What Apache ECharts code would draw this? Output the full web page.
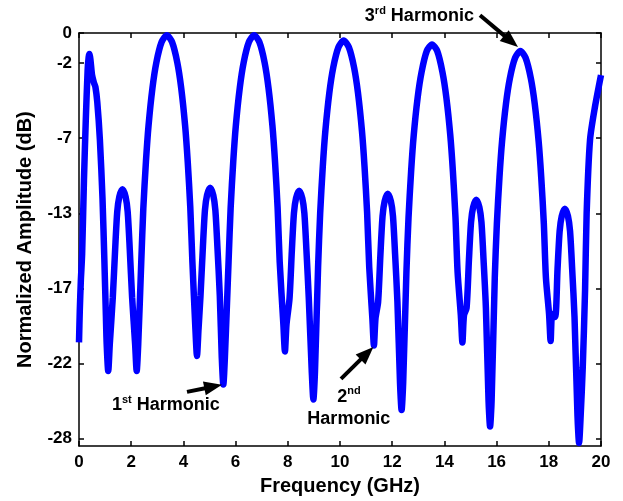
<!DOCTYPE html>
<html>
<head>
<meta charset="utf-8">
<script src="https://cdn.jsdelivr.net/npm/echarts@6/dist/echarts.min.js"></script>
<style>
html, body { margin: 0; padding: 0; background: #fff; }
#chart { width: 623px; height: 501px; }
</style>
</head>
<body>
<div id="chart"></div>
<script>
// [frequency GHz, normalized amplitude dB]
const responsePoints = [
  [0, -20.6], [0.03, -18.5], [0.07, -16.5], [0.12, -14.7], [0.19, -9.8], [0.26, -5.8], [0.33, -2.5],
  [0.37, -1.6], [0.4, -1.4], [0.44, -1.8], [0.5, -2.8], [0.57, -3.3], [0.63, -3.6], [0.7, -4.6],
  [0.8, -7.1], [0.9, -11], [0.97, -15], [1.03, -18.8],
  [1.06, -20.7], [1.12, -22.5], [1.18, -20.7],
  [1.295, -17.6], [1.385, -14.4], [1.465, -11.9], [1.545, -10.9], [1.665, -10.4], [1.785, -10.9], [1.865, -11.9], [1.945, -14.4], [2.035, -17.6],
  [2.15, -20.7], [2.21, -22.5], [2.27, -20.7],
  [2.385, -15.25], [2.465, -11.65], [2.565, -8.55], [2.665, -6.15], [2.815, -3.65], [2.965, -1.95], [3.165, -0.6], [3.365, -0.15],
  [3.565, -0.6], [3.765, -1.95], [3.915, -3.65], [4.065, -6.15], [4.165, -8.55], [4.265, -11.65], [4.345, -15.25],
  [4.46, -19.7], [4.52, -21.5], [4.58, -19.7],
  [4.655, -17.5], [4.745, -14.3], [4.825, -11.8], [4.905, -10.8], [5.025, -10.3], [5.145, -10.8], [5.225, -11.8], [5.305, -14.3], [5.395, -17.5],
  [5.47, -21.6], [5.53, -23.4], [5.59, -21.6],
  [5.73, -15.25], [5.81, -11.65], [5.91, -8.55], [6.01, -6.15], [6.16, -3.65], [6.31, -1.95], [6.51, -0.6], [6.71, -0.15],
  [6.91, -0.6], [7.11, -1.95], [7.26, -3.65], [7.41, -6.15], [7.51, -8.55], [7.61, -11.65], [7.69, -15.25],
  [7.83, -19.4], [7.89, -21.2], [7.95, -19.4],
  [8.065, -17.7], [8.155, -14.5], [8.235, -12.0], [8.315, -11.0], [8.435, -10.5], [8.555, -11.0], [8.635, -12.0], [8.715, -14.5], [8.805, -17.7],
  [8.92, -22.6], [8.98, -24.4], [9.04, -22.6],
  [9.16, -15.6], [9.24, -12.0], [9.34, -8.9], [9.44, -6.5], [9.59, -4.0], [9.74, -2.3], [9.94, -0.95], [10.14, -0.5],
  [10.34, -0.95], [10.54, -2.3], [10.69, -4.0], [10.84, -6.5], [10.94, -8.9], [11.04, -12.0], [11.12, -15.6],
  [11.24, -19.0], [11.3, -20.8], [11.36, -19.0],
  [11.46, -17.9], [11.55, -14.7], [11.63, -12.2], [11.71, -11.2], [11.83, -10.7], [11.95, -11.2], [12.03, -12.2], [12.11, -14.7], [12.2, -17.9],
  [12.3, -23.3], [12.36, -25.1], [12.42, -23.3],
  [12.545, -15.9], [12.625, -12.3], [12.725, -9.2], [12.825, -6.8], [12.975, -4.3], [13.125, -2.6], [13.325, -1.2], [13.525, -0.77],
  [13.725, -1.2], [13.925, -2.6], [14.075, -4.3], [14.225, -6.8], [14.325, -9.2], [14.425, -12.3], [14.505, -15.9],
  [14.63, -18.8], [14.69, -20.6], [14.75, -18.8],
  [14.85, -18.3], [14.94, -15.1], [15.02, -12.6], [15.1, -11.6], [15.22, -11.1], [15.34, -11.6], [15.42, -12.6], [15.5, -15.1], [15.59, -18.3],
  [15.69, -24.4], [15.75, -26.2], [15.81, -24.4],
  [15.93, -16.3], [16.01, -12.7], [16.11, -9.6], [16.21, -7.2], [16.36, -4.7], [16.51, -3.0], [16.71, -1.65], [16.91, -1.2],
  [17.11, -1.65], [17.31, -3.0], [17.46, -4.7], [17.61, -7.2], [17.71, -9.6], [17.81, -12.7], [17.89, -16.3],
  [18.01, -18.7], [18.07, -20.5], [18.13, -18.7],
  [18.245, -18.9], [18.335, -15.7], [18.415, -13.2], [18.495, -12.2], [18.615, -11.7], [18.735, -12.2], [18.815, -13.2], [18.895, -15.7], [18.985, -18.9],
  [19.1, -25.5], [19.16, -27.3], [19.22, -25.5],
  [19.3, -22.3], [19.39, -17.1], [19.45, -12], [19.58, -7.1], [19.77, -4.9], [20, -2.8]
]

// the printed y labels do not follow the tick spacing, keep them as printed
const yTickValues = [0, -2, -7, -12, -17, -22, -27]
const yTickLabels = ['0', '-2', '-7', '-13', '-17', '-22', '-28']

// annotation text and arrows, in data coordinates
const notes = [
  { text: '{n|1}{s|st}{n| Harmonic}', at: [1.264, -24.78], align: 'left' },
  { text: '{n|2}{s|nd}\n{n|Harmonic}', at: [10.34, -24.95], align: 'center' },
  { text: '{n|3}{s|rd}{n| Harmonic}', at: [15.13, 1.11], align: 'right' }
]
const arrows = [
  { from: [4.138, -23.89], to: [5.479, -23.42] },
  { from: [10.038, -23.02], to: [11.28, -20.9] },
  { from: [15.364, 1.18], to: [16.82, -0.94] }
]

const FONT = "'Liberation Sans', Arial, Helvetica, sans-serif"

const chart = echarts.init(document.getElementById('chart'))

const labelFor = (v) => {
  const i = yTickValues.findIndex((t) => Math.abs(t - v) < 1e-6)
  return i < 0 ? '' : yTickLabels[i]
}

const axisLine = { onZero: false, lineStyle: { color: '#000', width: 1.5 } }
const tickStyle = { color: '#000', width: 1.5 }

const option = {
  animation: false,
  backgroundColor: '#fff',
  grid: { left: 79, right: 22, top: 33, bottom: 54 },
  xAxis: [
    {
      type: 'value',
      min: 0,
      max: 20,
      interval: 2,
      name: 'Frequency (GHz)',
      nameLocation: 'middle',
      nameGap: 29,
      nameTextStyle: { color: '#000', fontSize: 20, fontWeight: 'bold', fontFamily: FONT },
      axisLine: axisLine,
      axisTick: { inside: true, length: 5, lineStyle: tickStyle },
      axisLabel: { color: '#000', fontSize: 17, fontWeight: 'bold', fontFamily: FONT, margin: 8 },
      splitLine: { show: false }
    },
    {
      type: 'value',
      position: 'top',
      min: 0,
      max: 20,
      interval: 2,
      axisLine: axisLine,
      axisTick: { inside: true, length: 5, lineStyle: tickStyle },
      axisLabel: { show: false },
      splitLine: { show: false }
    }
  ],
  yAxis: [
    {
      type: 'value',
      min: -27.5,
      max: 0,
      name: 'Normalized Amplitude (dB)',
      nameLocation: 'middle',
      nameGap: 44,
      nameTextStyle: { color: '#000', fontSize: 20, fontWeight: 'bold', fontFamily: FONT },
      axisLine: axisLine,
      axisTick: { inside: true, length: 5, lineStyle: tickStyle, customValues: yTickValues },
      axisLabel: {
        color: '#000', fontSize: 17, fontWeight: 'bold', fontFamily: FONT, margin: 7,
        customValues: yTickValues,
        formatter: labelFor
      },
      splitLine: { show: false }
    },
    {
      type: 'value',
      position: 'right',
      min: -27.5,
      max: 0,
      axisLine: axisLine,
      axisTick: { inside: true, length: 5, lineStyle: tickStyle, customValues: yTickValues },
      axisLabel: { show: false },
      splitLine: { show: false }
    }
  ],
  series: [
    {
      type: 'line',
      data: responsePoints,
      showSymbol: false,
      smooth: 0.25,
      lineStyle: { color: '#0000ff', width: 6.5 },
      z: 2
    }
  ]
}

chart.setOption(option)

// annotations drawn through the chart's own scales
const toPx = (c) => chart.convertToPixel({ gridIndex: 0 }, c)
const rich = {
  n: { fontSize: 18, fontWeight: 'bold', fontFamily: FONT, lineHeight: 22, fill: '#000' },
  s: { fontSize: 11, fontWeight: 'bold', fontFamily: FONT, lineHeight: 8, verticalAlign: 'top', fill: '#000' }
}
const graphics = []
notes.forEach((n) => {
  const p = toPx(n.at)
  graphics.push({
    type: 'text',
    x: p[0],
    y: p[1],
    z: 100,
    style: { text: n.text, rich: rich, align: n.align, verticalAlign: 'middle', fill: '#000' }
  })
})
arrows.forEach((a) => {
  const p0 = toPx(a.from)
  const p1 = toPx(a.to)
  const dx = p1[0] - p0[0]
  const dy = p1[1] - p0[1]
  const len = Math.sqrt(dx * dx + dy * dy)
  const ux = dx / len
  const uy = dy / len
  const headLen = 18
  const headW = 7
  const bx = p1[0] - ux * headLen
  const by = p1[1] - uy * headLen
  graphics.push({
    type: 'line',
    z: 100,
    shape: { x1: p0[0], y1: p0[1], x2: bx + ux * 2, y2: by + uy * 2 },
    style: { stroke: '#000', lineWidth: 4 }
  })
  graphics.push({
    type: 'polygon',
    z: 100,
    shape: { points: [[p1[0], p1[1]], [bx - uy * headW, by + ux * headW], [bx + uy * headW, by - ux * headW]] },
    style: { fill: '#000' }
  })
})
chart.setOption({ graphic: graphics })
</script>
</body>
</html>
